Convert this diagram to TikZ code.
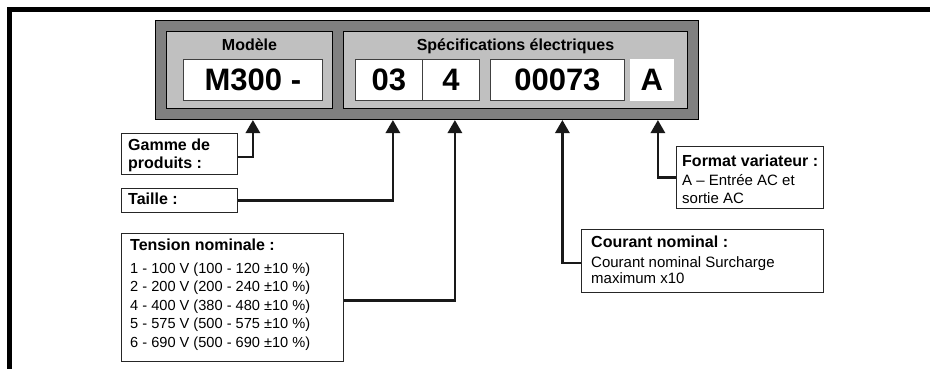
\documentclass[tikz,border=0pt]{standalone}
\usepackage{fontspec}
\setmainfont{Liberation Sans}
\usepackage{xcolor}
\usetikzlibrary{calc, arrows.meta, positioning}
\definecolor{grisfonce}{HTML}{808080}
\definecolor{grisclair}{HTML}{C0C0C0}

\begin{document}
\begin{tikzpicture}[x=1pt, y=-1pt,
  boite/.style={draw=black, line width=1pt, anchor=north west, inner sep=0pt},
  code/.style={draw=black!75, line width=0.8pt, fill=white, anchor=north west, inner sep=0pt,
    minimum height=41pt, font=\bfseries\fontsize{31}{31}\selectfont},
  titre/.style={inner sep=0pt, font=\bfseries\fontsize{16}{18}\selectfont},
  etiq/.style={draw=black!85, line width=1.1pt, fill=white, anchor=north west, inner sep=0pt},
  texte/.style={anchor=north west, inner sep=0pt, align=left},
  lien/.style={line width=2.8pt, draw=black!90, -{Triangle[width=14pt,length=13pt]}}
]
\useasboundingbox (0,0) rectangle (930,369);
% Cadre
\draw[line width=4.6pt] (9.5,369) -- (9.5,9.5) -- (930,9.5);
% Plaque
\node[boite, fill=grisfonce, minimum width=543pt, minimum height=99pt] (plaque) at (155,20) {};
\node[boite, fill=grisclair, minimum width=166pt, minimum height=77pt] (modele) at (166,31) {};
\node[boite, fill=grisclair, minimum width=344pt, minimum height=77pt] (specs) at (343,31) {};
\node[titre, below=8pt of modele.north] (t-modele) {Modèle};
\node[titre, below=8pt of specs.north] (t-specs) {Spécifications électriques};
% Codes
\node[code, minimum width=139pt] (c-gamme) at (183,59) {M300 -};
\node[code, minimum width=67pt] (c-taille) at (355,59) {03};
\node[code, minimum width=57pt] (c-tension) at (422,59) {4};
\node[code, minimum width=134pt] (c-courant) at (490,59) {00073};
\node[code, minimum width=43pt, draw=white] (c-format) at (630,59) {A};
% Pointes des fleches
\coordinate (p-gamme) at (c-gamme.south |- plaque.south);
\coordinate (p-taille) at ([xshift=4pt]c-taille.south |- plaque.south);
\coordinate (p-tension) at ([xshift=4pt]c-tension.south |- plaque.south);
\coordinate (p-courant) at ([xshift=5pt]c-courant.south |- plaque.south);
\coordinate (p-format) at ([xshift=6pt]c-format.south |- plaque.south);
% Etiquettes
\node[etiq, minimum width=116pt, minimum height=41pt] (gamme) at (121,133) {};
\node[texte, font=\bfseries\fontsize{16}{18}\selectfont] (t-gamme)
  at ([shift={(7pt,-5.5pt)}]gamme.north west) {Gamme de\\produits :};
\node[etiq, minimum width=116pt, minimum height=24pt] (taille) at (121,188) {};
\node[texte, font=\bfseries\fontsize{16}{18}\selectfont] (t-taille)
  at ([shift={(7pt,-5pt)}]taille.north west) {Taille :};
\node[etiq, minimum width=222pt, minimum height=128pt] (tension) at (121,233) {};
\node[texte, font=\fontsize{14.6}{18.4}\selectfont] (t-tension)
  at ([shift={(9pt,-5.5pt)}]tension.north west)
  {{\bfseries\fontsize{16}{18}\selectfont Tension nominale :}\\[4.8pt]
   1 - 100 V (100 - 120 ±10 \%)\\
   2 - 200 V (200 - 240 ±10 \%)\\
   4 - 400 V (380 - 480 ±10 \%)\\
   5 - 575 V (500 - 575 ±10 \%)\\
   6 - 690 V (500 - 690 ±10 \%)};
\node[etiq, minimum width=242pt, minimum height=63pt] (courant) at (581,229) {};
\node[texte, font=\fontsize{15}{15.5}\selectfont] (t-courant)
  at ([shift={(10pt,-7pt)}]courant.north west)
  {{\bfseries\fontsize{16}{18}\selectfont Courant nominal :}\\[4.5pt]
   Courant nominal Surcharge\\
   maximum x10};
\node[etiq, minimum width=147pt, minimum height=62pt] (format) at (676,146) {};
\node[texte, font=\fontsize{15}{17.5}\selectfont] (t-format)
  at ([shift={(6pt,-9pt)}]format.north west)
  {{\bfseries\fontsize{16}{18}\selectfont Format variateur :}\\[1.5pt]
   A -- Entrée AC et\\
   sortie AC};
% Liens
\draw[lien] ([yshift=-3pt]gamme.east) -| (p-gamme);
\draw[lien] (taille.east) -| (p-taille);
\draw[lien] ([yshift=-3pt]tension.east) -| (p-tension);
\draw[lien] ([yshift=-2pt]courant.west) -| (p-courant);
\draw[lien] (format.west) -| (p-format);
\end{tikzpicture}
\end{document}
